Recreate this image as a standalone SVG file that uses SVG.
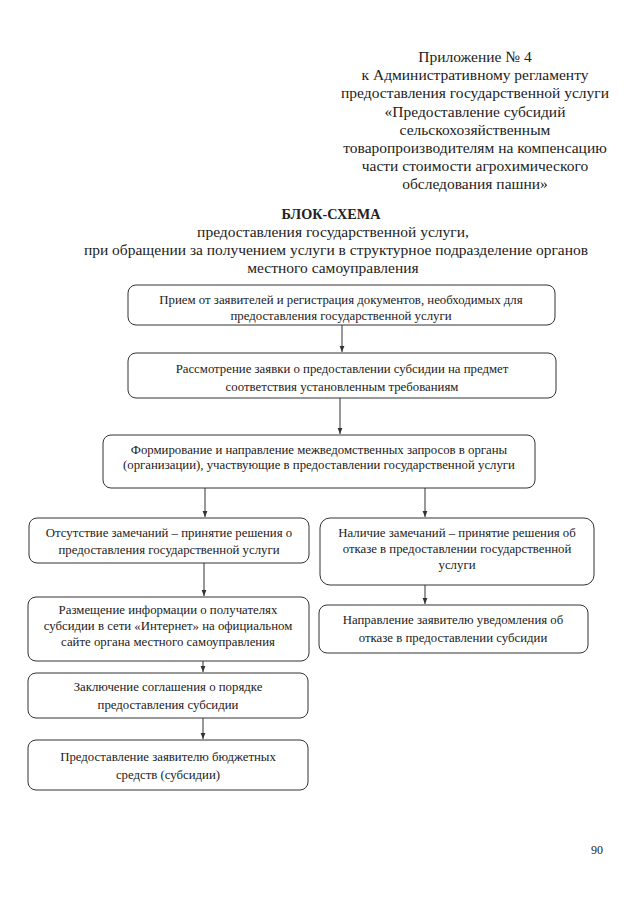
<svg xmlns="http://www.w3.org/2000/svg" width="640" height="905" viewBox="0 0 640 905">
<defs>
<marker id="ah" viewBox="0 0 10 10" refX="10" refY="5" markerWidth="6" markerHeight="6" markerUnits="userSpaceOnUse" orient="auto">
<path d="M0,1 L10,5 L0,9 Z" fill="#333"/>
</marker>
<style>
.hd{font-size:15.5px;text-anchor:middle;fill:#222}
.tt{font-size:14.2px;text-anchor:middle;font-weight:bold;fill:#222}
.bx{fill:#fff;stroke:#333;stroke-width:1}
.t{font-size:12.8px;text-anchor:middle;fill:#222}
.cn{stroke:#333;stroke-width:1;fill:none;marker-end:url(#ah)}
</style>
</defs>
<rect width="640" height="905" fill="#fff"/>
<g font-family="Liberation Serif, serif">
<g id="header">
<text class="hd" x="475" y="62">Приложение № 4</text>
<text class="hd" x="475" y="80">к Административному регламенту</text>
<text class="hd" x="475" y="98">предоставления государственной услуги</text>
<text class="hd" x="475" y="117">«Предоставление субсидий</text>
<text class="hd" x="475" y="135">сельскохозяйственным</text>
<text class="hd" x="475" y="153">товаропроизводителям на компенсацию</text>
<text class="hd" x="475" y="171">части стоимости агрохимического</text>
<text class="hd" x="475" y="189">обследования пашни»</text>
</g>
<g id="title">
<text class="tt" x="331" y="219">БЛОК-СХЕМА</text>
<text class="hd" x="333" y="237">предоставления государственной услуги,</text>
<text class="hd" x="336" y="255">при обращении за получением услуги в структурное подразделение органов</text>
<text class="hd" x="333" y="273">местного самоуправления</text>
</g>
<g id="connectors">
<line class="cn" x1="342" y1="325" x2="342" y2="352"/>
<line class="cn" x1="340" y1="398" x2="340" y2="434"/>
<line class="cn" x1="205" y1="488" x2="205" y2="517"/>
<line class="cn" x1="425" y1="488" x2="425" y2="517"/>
<line class="cn" x1="204" y1="563" x2="204" y2="596"/>
<line class="cn" x1="425" y1="585" x2="425" y2="604"/>
<line class="cn" x1="203" y1="661" x2="203" y2="672"/>
<line class="cn" x1="203" y1="718" x2="203" y2="739"/>
</g>
<g id="n1">
<rect class="bx" x="128" y="285" width="427" height="40" rx="8"/>
<text class="t" x="341" y="304">Прием от заявителей и регистрация документов, необходимых для</text>
<text class="t" x="341" y="320">предоставления государственной услуги</text>
</g>
<g id="n2">
<rect class="bx" x="128" y="353" width="428" height="45" rx="8"/>
<text class="t" x="342" y="373">Рассмотрение заявки о предоставлении субсидии на предмет</text>
<text class="t" x="342" y="391">соответствия установленным требованиям</text>
</g>
<g id="n3">
<rect class="bx" x="103" y="435" width="432" height="53" rx="8"/>
<text class="t" x="319" y="454">Формирование и направление межведомственных запросов в органы</text>
<text class="t" x="319" y="469">(организации), участвующие в предоставлении государственной услуги</text>
</g>
<g id="n4">
<rect class="bx" x="29" y="518" width="280" height="45" rx="8"/>
<text class="t" x="169" y="537">Отсутствие замечаний – принятие решения о</text>
<text class="t" x="169" y="554">предоставления государственной услуги</text>
</g>
<g id="n5">
<rect class="bx" x="28" y="597" width="281" height="64" rx="8"/>
<text class="t" x="168" y="614">Размещение информации о получателях</text>
<text class="t" x="168" y="630">субсидии в сети «Интернет» на официальном</text>
<text class="t" x="168" y="646">сайте органа местного самоуправления</text>
</g>
<g id="n6">
<rect class="bx" x="28" y="673" width="280" height="45" rx="8"/>
<text class="t" x="168" y="691">Заключение соглашения о порядке</text>
<text class="t" x="168" y="709">предоставления субсидии</text>
</g>
<g id="n7">
<rect class="bx" x="28" y="740" width="280" height="50" rx="8"/>
<text class="t" x="168" y="761">Предоставление заявителю бюджетных</text>
<text class="t" x="168" y="779">средств (субсидии)</text>
</g>
<g id="n8">
<rect class="bx" x="320" y="518" width="274" height="67" rx="10"/>
<text class="t" x="457" y="537">Наличие замечаний – принятие решения об</text>
<text class="t" x="457" y="553">отказе в предоставлении государственной</text>
<text class="t" x="457" y="569">услуги</text>
</g>
<g id="n9">
<rect class="bx" x="319" y="605" width="269" height="48" rx="8"/>
<text class="t" x="453" y="624">Направление заявителю уведомления об</text>
<text class="t" x="453" y="642">отказе в предоставлении субсидии</text>
</g>
<g id="page">
<text x="597" y="854" font-size="12" text-anchor="middle" fill="#222">90</text>
</g>
</g>
</svg>
